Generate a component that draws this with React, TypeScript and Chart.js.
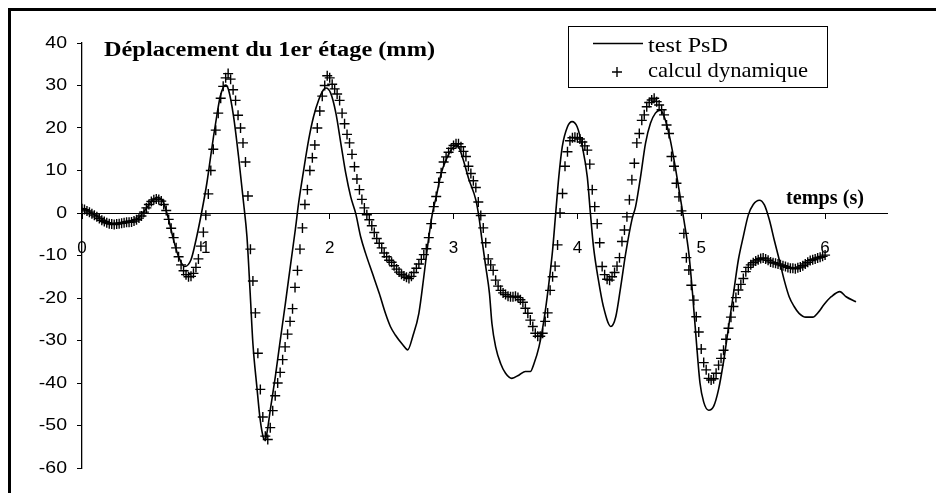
import React, { useEffect, useRef } from "react";
import { Chart, registerables } from "chart.js";

Chart.register(...registerables);

// ---------- data ----------
const X_TICKS = [0, 1, 2, 3, 4, 5, 6];
const Y_TICKS = [-60, -50, -40, -30, -20, -10, 0, 10, 20, 30, 40];
const X_MIN = 0;
const X_MAX = 6.5;
const Y_MIN = -60;
const Y_MAX = 40;

const TITLE = "Déplacement du 1er étage (mm)";
const X_TITLE = "temps (s)";
const LEGEND_LINE = "test PsD";
const LEGEND_CROSS = "calcul dynamique";

// "calcul dynamique": one value every CALC_STEP seconds, starting at t = 0
const CALC_STEP = 0.02;
const calcValues = [
  1.0, 0.8, 0.5, 0.2, -0.2, -0.5, -0.9, -1.3, -1.7, -2.0,
  -2.3, -2.5, -2.6, -2.7, -2.6, -2.5, -2.4, -2.3, -2.2, -2.2,
  -2.1, -1.9, -1.6, -1.2, -0.7, 0.2, 1.2, 2.0, 2.7, 3.1,
  3.3, 3.2, 2.8, 2.0, 0.6, -1.5, -3.6, -5.8, -8.2, -10.3,
  -12.2, -13.6, -14.5, -15.0, -14.9, -14.2, -12.8, -10.8, -7.8, -4.5,
  -0.5, 4.5, 10.0, 15.0, 19.5, 23.5, 27.0, 29.8, 31.8, 32.8,
  31.5, 29.0, 26.5, 23.0, 20.0, 16.5, 12.0, 4.0, -8.5, -16.0,
  -23.5, -33.0, -41.5, -48.0, -52.5, -53.3, -50.5, -46.5, -43.0, -40.0,
  -37.5, -34.5, -31.5, -28.5, -25.5, -22.5, -17.5, -13.5, -8.5, -3.5,
  2.0, 5.5, 10.0, 13.0, 16.0, 20.0, 24.0, 27.5, 30.0, 32.3,
  31.8, 30.3, 29.2, 28.0, 26.5, 23.5, 21.0, 18.5, 16.5, 13.8,
  10.9, 8.0, 5.5, 3.2, 1.2, -0.4, -1.6, -3.0, -4.6, -6.0,
  -7.1, -8.2, -9.4, -10.3, -11.1, -11.6, -12.4, -13.2, -13.9, -14.4,
  -14.8, -15.1, -15.4, -14.9, -14.0, -13.0, -12.0, -10.9, -9.8, -8.4,
  -5.8, -2.5, 1.5, 3.9, 7.2, 9.5, 12.0, 13.2, 14.3, 15.2,
  15.9, 16.3, 16.3, 15.6, 14.5, 13.3, 11.0, 9.3, 7.6, 6.0,
  2.6, -0.6, -3.5, -7.0, -10.8, -12.2, -13.5, -15.8, -17.2, -18.2,
  -18.8, -19.2, -19.6, -19.7, -19.7, -19.6, -19.9, -20.4, -21.0, -22.4,
  -23.6, -25.2, -26.7, -28.3, -29.0, -29.0, -28.3, -25.5, -23.5, -18.2,
  -15.0, -12.5, -7.5, 0.0, 4.6, 11.0, 14.4, 17.0, 17.7, 17.8,
  17.7, 17.4, 16.7, 15.8, 14.8, 11.5, 5.5, 1.5, -2.5, -7.0,
  -12.6, -14.5, -15.6, -15.8, -15.0, -14.0, -12.5, -10.5, -6.7, -4.0,
  -0.9, 3.1, 7.8, 11.7, 16.5, 18.7, 21.8, 23.1, 25.0, 26.0,
  26.6, 27.0, 26.2, 25.4, 24.3, 23.1, 20.7, 18.7, 13.3, 11.0,
  7.0, 3.8, 0.5, -4.8, -10.5, -13.4, -17.0, -20.5, -24.4, -28.0,
  -32.0, -35.2, -36.9, -38.9, -39.3, -39.0, -37.7, -35.8, -34.2, -32.3,
  -29.7, -27.1, -24.5, -22.0, -19.9, -18.1, -16.8, -15.4, -13.8, -12.8,
  -12.2, -11.7, -11.3, -11.0, -10.7, -10.6, -10.8, -11.1, -11.5, -11.7,
  -11.8, -12.0, -12.2, -12.4, -12.6, -12.8, -13.0, -13.0, -13.1, -12.9,
  -12.7, -12.4, -12.0, -11.6, -11.2, -11.0, -10.8, -10.6, -10.4, -10.2,
  -9.9,
];

// "test PsD": times (s) and displacements (mm)
const testTimes = [
  0.0, 0.05, 0.1, 0.13, 0.18, 0.24, 0.3, 0.345, 0.4, 0.45,
  0.51, 0.56, 0.61, 0.66, 0.7, 0.74, 0.78, 0.83, 0.88, 0.92,
  0.965, 1.008, 1.035, 1.062, 1.089, 1.116, 1.143, 1.16, 1.183, 1.224,
  1.264, 1.305, 1.332, 1.358, 1.38, 1.412, 1.439, 1.466, 1.48, 1.495,
  1.52, 1.561, 1.601, 1.642, 1.682, 1.722, 1.749, 1.79, 1.83, 1.87,
  1.911, 1.95, 1.97, 2.008, 2.05, 2.09, 2.13, 2.17, 2.21, 2.25,
  2.29, 2.345, 2.4, 2.45, 2.49, 2.53, 2.59, 2.63, 2.67, 2.72,
  2.76, 2.79, 2.83, 2.86, 2.9, 2.94, 2.98, 3.03, 3.07, 3.125,
  3.18, 3.205, 3.23, 3.26, 3.29, 3.31, 3.34, 3.38, 3.42, 3.47,
  3.53, 3.58, 3.62, 3.65, 3.69, 3.73, 3.77, 3.8, 3.825, 3.85,
  3.878, 3.92, 3.957, 3.998, 4.04, 4.08, 4.105, 4.13, 4.17, 4.21,
  4.27, 4.31, 4.35, 4.39, 4.44, 4.47, 4.51, 4.55, 4.59, 4.63,
  4.67, 4.71, 4.75, 4.79, 4.83, 4.86, 4.9, 4.93, 4.96, 4.99,
  5.02, 5.06, 5.1, 5.14, 5.18, 5.22, 5.26, 5.3, 5.34, 5.38,
  5.42, 5.47, 5.51, 5.55, 5.59, 5.63, 5.67, 5.71, 5.75, 5.79,
  5.845, 5.9, 5.95, 5.99, 6.05, 6.12, 6.17, 6.25,
];
const testValues = [
  1.1, 0.5, -0.4, -0.9, -1.8, -2.4, -2.3, -2.0, -1.8, -1.3,
  0.7, 2.7, 3.7, 2.3, -1.6, -6.4, -10.3, -12.6, -11.0, -6.4,
  0.0, 7.0, 12.5, 18.0, 23.0, 27.4, 29.7, 30.1, 29.0, 22.7,
  13.3, 2.3, -5.6, -18.9, -30.7, -40.9, -48.7, -53.0, -53.4, -51.5,
  -46.4, -38.5, -29.9, -21.3, -12.6, -4.0, 2.3, 10.1, 17.2, 22.7,
  26.6, 29.0, 29.4, 28.2, 23.5, 16.4, 9.3, 3.8, -0.1, -5.6,
  -9.5, -14.2, -18.9, -23.6, -26.7, -28.7, -31.0, -32.2, -29.1, -23.6,
  -15.0, -7.9, 0.0, 3.8, 9.3, 12.5, 14.8, 16.0, 13.3, 7.8,
  3.1, -0.9, -6.4, -12.6, -18.9, -26.0, -31.5, -35.4, -37.7, -38.9,
  -38.1, -37.3, -37.3, -35.4, -31.5, -25.2, -16.5, -8.7, 0.0, 8.5,
  15.6, 20.3, 21.5, 20.3, 15.6, 8.5, 0.0, -7.9, -15.8, -22.0,
  -26.7, -24.4, -17.3, -9.5, -1.6, 1.5, 8.5, 16.4, 21.1, 23.5,
  24.2, 21.9, 17.2, 10.9, 3.8, -1.6, -9.5, -19.0, -30.0, -40.0,
  -44.5, -46.4, -45.5, -41.5, -35.0, -27.0, -19.0, -11.0, -5.5, -0.5,
  2.0, 3.0, 1.9, -1.6, -6.4, -11.0, -15.8, -19.7, -22.0, -23.6,
  -24.5, -24.5, -23.2, -21.6, -19.7, -18.5, -19.7, -20.9,
];

// ---------- layout constants (page pixels) ----------
const W = 936;
const H = 493;
const PLOT = { left: 82, right: 887, top: 43, bottom: 468 };
const SERIF = "'Liberation Serif', 'Times New Roman', serif";
const SANS = "'Liberation Sans', Arial, sans-serif";

function drawStretched(
  ctx: CanvasRenderingContext2D,
  text: string,
  x: number,
  y: number,
  font: string,
  width: number,
  align: "left" | "right" = "left",
  baseline: CanvasTextBaseline = "alphabetic"
) {
  ctx.font = font;
  const w = ctx.measureText(text).width;
  const s = width / w;
  ctx.save();
  ctx.translate(x, y);
  ctx.scale(s, 1);
  ctx.textAlign = align;
  ctx.textBaseline = baseline;
  ctx.fillText(text, 0, 0);
  ctx.restore();
}

const overlayPlugin = {
  id: "overlay",
  afterDraw(chart: any) {
    const ctx: CanvasRenderingContext2D = chart.ctx;
    ctx.save();
    ctx.fillStyle = "#000";
    ctx.strokeStyle = "#000";
    // outer frame (only top and left edges are visible)
    ctx.fillRect(8, 8, W - 8, 3);
    ctx.fillRect(8, 8, 3, H - 8);

    // y tick labels
    const ys = chart.scales.y;
    ctx.font = `16px ${SANS}`;
    ys.ticks.forEach((t: any) => {
      const py = ys.getPixelForValue(t.value);
      const label = String(t.value);
      const w = ctx.measureText(label).width;
      drawStretched(ctx, label, ys.right - 15, py + 0.5, `16px ${SANS}`, w * 1.22, "right", "middle");
      ctx.font = `16px ${SANS}`;
    });

    // title inside plot
    drawStretched(ctx, TITLE, 104, 56, `bold 20px ${SERIF}`, 331);
    // x-axis title
    drawStretched(ctx, X_TITLE, 786, 204, `bold 20px ${SERIF}`, 78);

    // legend box
    ctx.lineWidth = 1;
    ctx.strokeRect(568.5, 26.5, 259, 61);
    ctx.lineWidth = 1.5;
    ctx.beginPath();
    ctx.moveTo(593, 43.5);
    ctx.lineTo(643, 43.5);
    ctx.stroke();
    ctx.lineWidth = 1.4;
    ctx.beginPath();
    ctx.moveTo(612, 72);
    ctx.lineTo(622, 72);
    ctx.moveTo(617, 67);
    ctx.lineTo(617, 77);
    ctx.stroke();
    drawStretched(ctx, LEGEND_LINE, 648, 52, `22px ${SERIF}`, 80);
    drawStretched(ctx, LEGEND_CROSS, 648, 77, `22px ${SERIF}`, 160);
    ctx.restore();
  },
};

export default function App() {
  const ref = useRef<HTMLCanvasElement | null>(null);

  useEffect(() => {
    const canvas = ref.current;
    if (!canvas) return;
    const chart = new Chart(canvas, {
      type: "scatter",
      data: {
        datasets: [
          {
            label: LEGEND_LINE,
            data: testTimes.map((t, i) => ({ x: t, y: testValues[i] })),
            showLine: true,
            borderColor: "#000",
            backgroundColor: "#000",
            borderWidth: 1.6,
            pointRadius: 0,
            cubicInterpolationMode: "monotone",
          },
          {
            label: LEGEND_CROSS,
            data: calcValues.map((v, i) => ({ x: i * CALC_STEP, y: v })),
            showLine: false,
            pointStyle: "cross",
            pointRadius: 5,
            pointBorderWidth: 1.4,
            borderColor: "#000",
            backgroundColor: "#000",
          },
        ],
      },
      options: {
        animation: false,
        responsive: false,
        devicePixelRatio: 1,
        layout: {
          padding: {
            left: 0,
            top: PLOT.top,
            right: W - PLOT.right,
            bottom: H - PLOT.bottom,
          },
        },
        plugins: {
          legend: { display: false },
          tooltip: { enabled: false },
          title: { display: false },
        },
        scales: {
          x: {
            type: "linear",
            min: X_MIN,
            max: X_MAX,
            position: { y: 0 },
            afterBuildTicks: (s: any) => {
              s.ticks = X_TICKS.map((v) => ({ value: v }));
            },
            grid: {
              drawOnChartArea: false,
              drawTicks: true,
              tickLength: 5,
              color: "#000",
              lineWidth: 1,
            },
            border: { display: true, color: "#000", width: 1 },
            ticks: {
              color: "#000",
              font: { family: SANS, size: 17 },
              padding: 20,
              maxRotation: 0,
              autoSkip: false,
            },
          },
          y: {
            type: "linear",
            min: Y_MIN,
            max: Y_MAX,
            afterBuildTicks: (s: any) => {
              s.ticks = Y_TICKS.map((v) => ({ value: v }));
            },
            afterFit: (s: any) => {
              s.width = PLOT.left;
            },
            grid: {
              drawOnChartArea: false,
              drawTicks: true,
              tickLength: 5,
              color: "#000",
              lineWidth: 1,
            },
            border: { display: true, color: "#000", width: 1.3 },
            ticks: {
              display: false,
            },
          },
        },
      },
      plugins: [overlayPlugin],
    });
    return () => chart.destroy();
  }, []);

  return (
    <div
      style={{
        position: "fixed",
        left: 0,
        top: 0,
        width: W,
        height: H,
        background: "#fff",
      }}
    >
      <canvas ref={ref} width={W} height={H} style={{ display: "block" }} />
    </div>
  );
}
